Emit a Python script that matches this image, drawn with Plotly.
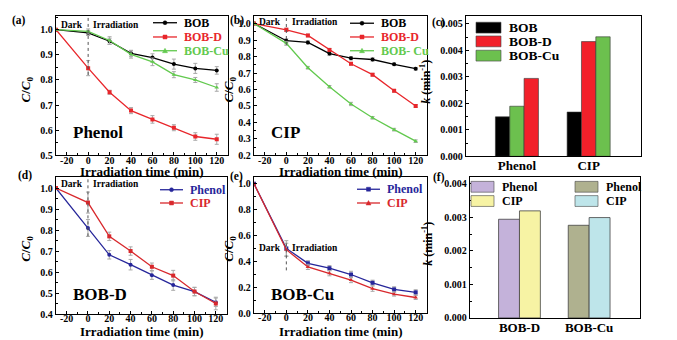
import plotly.graph_objects as go

# ---- data ----
t = [-30, 0, 20, 40, 60, 80, 100, 120]
t_ticks = [-20, 0, 20, 40, 60, 80, 100, 120]
t_ticktext = ["-20", "0", "20", "40", "60", "80", "100", "120"]

# (a) phenol degradation
a_bob = [1.0, 0.987, 0.954, 0.906, 0.889, 0.863, 0.846, 0.838]
a_bob_err = [0, 0.01, 0.012, 0.012, 0.015, 0.02, 0.02, 0.015]
a_bobd = [1.0, 0.847, 0.751, 0.678, 0.643, 0.610, 0.575, 0.564]
a_bobd_err = [0, 0.03, 0.008, 0.012, 0.015, 0.012, 0.015, 0.02]
a_bobcu = [1.0, 0.993, 0.957, 0.902, 0.872, 0.821, 0.800, 0.770]
a_bobcu_err = [0, 0.01, 0.015, 0.015, 0.015, 0.012, 0.01, 0.015]

# (b) CIP degradation
b_bob = [1.0, 0.896, 0.886, 0.818, 0.790, 0.782, 0.753, 0.726]
b_bob_err = [0, 0.012, 0.01, 0.012, 0.01, 0.01, 0.008, 0.008]
b_bobd = [1.0, 0.962, 0.928, 0.840, 0.756, 0.690, 0.592, 0.500]
b_bobd_err = [0, 0.01, 0.008, 0.01, 0.008, 0.008, 0.008, 0.008]
b_bobcu = [1.0, 0.880, 0.732, 0.616, 0.512, 0.428, 0.356, 0.286]
b_bobcu_err = [0, 0.012, 0.008, 0.008, 0.01, 0.008, 0.008, 0.008]

# (d) BOB-D
d_phenol = [1.0, 0.810, 0.682, 0.635, 0.585, 0.538, 0.507, 0.456]
d_phenol_err = [0, 0.04, 0.02, 0.025, 0.02, 0.025, 0.02, 0.02]
d_cip = [1.0, 0.931, 0.770, 0.700, 0.625, 0.583, 0.507, 0.450]
d_cip_err = [0, 0.05, 0.02, 0.02, 0.018, 0.025, 0.02, 0.03]

# (e) BOB-Cu
e_phenol = [1.0, 0.500, 0.385, 0.347, 0.298, 0.234, 0.183, 0.160]
e_phenol_err = [0, 0.06, 0.02, 0.02, 0.025, 0.02, 0.02, 0.02]
e_cip = [1.0, 0.490, 0.357, 0.308, 0.255, 0.188, 0.146, 0.120]
e_cip_err = [0, 0.05, 0.02, 0.02, 0.02, 0.02, 0.015, 0.015]

# (c) rate constants
c_cats = ["Phenol", "CIP"]
c_series = ["BOB", "BOB-D", "BOB-Cu"]
c_values = {"BOB": [0.00149, 0.00167], "BOB-D": [0.00294, 0.00433], "BOB-Cu": [0.00189, 0.00451]}

# (f) rate constants
f_cats = ["BOB-D", "BOB-Cu"]
f_phenol = [0.00294, 0.00276]
f_cip = [0.00319, 0.00299]

FONT = "Liberation Serif"
BLACK, RED, GREEN = "#000000", "#E8262B", "#62C94E"
NAVY, RED2 = "#26269A", "#D8282C"
ERRC = "#A8A8A8"
W, H = 677, 340

fig = go.Figure()


def line(x, y, err, color, symbol, ax):
    fig.add_trace(go.Scatter(
        x=x, y=y, mode="lines+markers", line=dict(color=color, width=1.3),
        marker=dict(symbol=symbol, size=4, color=color),
        error_y=dict(type="data", array=err, color=ERRC, thickness=1, width=2),
        xaxis="x" + ax, yaxis="y" + ax))


line(t, a_bob, a_bob_err, BLACK, "circle", "")
line(t, a_bobd, a_bobd_err, RED, "square", "")
line(t, a_bobcu, a_bobcu_err, GREEN, "triangle-up", "")

line(t, b_bob, b_bob_err, BLACK, "circle", "2")
line(t, b_bobd, b_bobd_err, RED, "square", "2")
line(t, b_bobcu, b_bobcu_err, GREEN, "triangle-up", "2")

line(t, d_phenol, d_phenol_err, NAVY, "circle", "4")
line(t, d_cip, d_cip_err, RED2, "square", "4")

line(t, e_phenol, e_phenol_err, NAVY, "square", "5")
line(t, e_cip, e_cip_err, RED2, "triangle-up", "5")

# (c) bars: within each group the bars are ordered by value (slot = rank)
c_colors = {"BOB": BLACK, "BOB-D": "#F2202A", "BOB-Cu": "#6CC04E"}
for rank in range(len(c_series)):
    for i, cat in enumerate(c_cats):
        s = sorted(c_series, key=lambda k: c_values[k][i])[rank]
        fig.add_trace(go.Bar(
            x=[cat], y=[c_values[s][i]], offsetgroup=str(rank),
            marker=dict(color=c_colors[s], line=dict(color="#333333", width=0.6)),
            xaxis="x3", yaxis="y3"))

# (f) bars
f_cols = [("#C4B2DA", "#F7F3A4"), ("#AFB18F", "#BEE5EA")]
for i, cat in enumerate(f_cats):
    fig.add_trace(go.Bar(x=[cat], y=[f_phenol[i]], offsetgroup="p",
                         marker=dict(color=f_cols[i][0], line=dict(color="#444444", width=0.8)),
                         xaxis="x6", yaxis="y6"))
    fig.add_trace(go.Bar(x=[cat], y=[f_cip[i]], offsetgroup="c",
                         marker=dict(color=f_cols[i][1], line=dict(color="#444444", width=0.8)),
                         xaxis="x6", yaxis="y6"))


def dom(x0, x1, y0, y1):
    return [x0 / W, x1 / W], [1 - y1 / H, 1 - y0 / H]


boxes = {
    "": dom(48, 220, 8, 150),
    "2": dom(246, 419, 8, 150),
    "3": dom(458, 633, 8, 151),
    "4": dom(48, 219, 172, 311.5),
    "5": dom(246, 419, 172, 310.5),
    "6": dom(462, 632, 172, 315.5),
}

axstyle = dict(showline=True, linecolor="black", linewidth=1.3, mirror=True,
               ticks="inside", ticklen=3, tickwidth=1, tickcolor="black",
               showgrid=False, zeroline=False,
               tickfont=dict(family=FONT, size=10, color="black", weight="bold"))

lay = {}
yranges = {"": ([0.5, 1.055], 0.1, ".1f"), "2": ([0.2, 1.047], 0.1, ".1f"),
           "4": ([0.4, 1.053], 0.1, ".1f"), "5": ([0, 1.053], 0.2, ".1f"),
           "3": ([0, 0.0053], 0.001, ".3f"), "6": ([0, 0.0042], 0.001, ".3f")}
for k, (xd, yd) in boxes.items():
    yr, dt, fmt = yranges[k]
    if k in ("3", "6"):
        lay["xaxis" + k] = dict(axstyle, domain=xd, anchor="y" + k, ticks="", range=[-0.71, 1.73],
                                ticklabelstandoff=-3,
                                tickfont=dict(family=FONT, size=13, color="black", weight="bold"))
    else:
        lay["xaxis" + k] = dict(axstyle, domain=xd, anchor="y" + k, range=[-30, 130.5],
                                tickvals=t_ticks, ticktext=t_ticktext,
                                ticklabelstandoff=-5,
                                minor=dict(ticks="inside", ticklen=2, dtick=10, tick0=0))
    lay["yaxis" + k] = dict(axstyle, domain=yd, anchor="x" + k, range=yr, dtick=dt,
                            tickformat=fmt, minor=dict(ticks="inside", ticklen=2, nticks=2))

# dark/irradiation dividers (x=0, y extents per panel)
dividers = {"": (0.82, 1.055), "2": (0.87, 1.047), "4": (0.77, 1.053), "5": (0.33, 0.56)}
shapes = []
for k, (y0, y1) in dividers.items():
    shapes.append(dict(type="line", xref="x" + k, yref="y" + k, x0=0, x1=0, y0=y0, y1=y1,
                       line=dict(color="#555555", width=1, dash="dot")))

ann = []


def txt(text, x, y, size, xref="paper", yref="paper", xanchor="center", yanchor="middle",
        angle=0, color="black"):
    ann.append(dict(text=text, x=x, y=y, xref=xref, yref=yref, xanchor=xanchor,
                    yanchor=yanchor, showarrow=False, textangle=angle,
                    font=dict(family=FONT, size=size, color=color, weight="bold")))


# ---- legends (drawn as keys + text, positions in pixels) ----
def px(x):
    return x / W


def py(y):
    return 1 - y / H


def key_line(x0, x1, y, color, symbol, label, size=12):
    shapes.append(dict(type="line", xref="paper", yref="paper", x0=px(x0), x1=px(x1),
                       y0=py(y), y1=py(y), line=dict(color=color, width=1.3)))
    cx, r = (x0 + x1) / 2, 2
    if symbol == "triangle":
        path = f"M {px(cx - r - 0.5)} {py(y + r)} L {px(cx + r + 0.5)} {py(y + r)} L {px(cx)} {py(y - r - 0.5)} Z"
        shapes.append(dict(type="path", xref="paper", yref="paper", path=path,
                           fillcolor=color, line=dict(color=color, width=0.5)))
    else:
        shapes.append(dict(type="circle" if symbol == "circle" else "rect",
                           xref="paper", yref="paper", x0=px(cx - r), x1=px(cx + r),
                           y0=py(y + r), y1=py(y - r), fillcolor=color,
                           line=dict(color=color, width=0.5)))
    txt(label, px(x1 + 5), py(y), size, xanchor="left", color=color)


def key_box(x0, x1, y, h, color, label, size):
    shapes.append(dict(type="rect", xref="paper", yref="paper", x0=px(x0), x1=px(x1),
                       y0=py(y + h / 2), y1=py(y - h / 2), fillcolor=color,
                       line=dict(color="#444444", width=0.6)))
    txt(label, px(x1 + 6), py(y), size, xanchor="left")


for lab, col, sym, yy in [("BOB", BLACK, "circle", 15), ("BOB-D", RED, "square", 29.5),
                          ("BOB-Cu", GREEN, "triangle", 43.5)]:
    key_line(145, 169, yy, col, sym, lab)
for lab, col, sym, yy in [("BOB", BLACK, "circle", 15.5), ("BOB-D", RED, "square", 29.5),
                          ("BOB- Cu", GREEN, "triangle", 43.5)]:
    key_line(342, 366, yy, col, sym, lab)
for lab, col, yy in [("BOB", BLACK, 20), ("BOB-D", c_colors["BOB-D"], 34),
                     ("BOB-Cu", c_colors["BOB-Cu"], 48.5)]:
    key_box(468, 493, yy, 11, col, lab, 13.5)
key_line(152, 175, 185, NAVY, "circle", "Phenol")
key_line(152, 175, 198.5, RED2, "square", "CIP")
key_line(349, 372, 184.5, NAVY, "square", "Phenol")
key_line(349, 372, 198.5, RED2, "triangle", "CIP")
key_box(463, 486, 182, 11, f_cols[0][0], "Phenol", 12)
key_box(463, 486, 196.5, 11, f_cols[0][1], "CIP", 12)
key_box(567, 590, 182, 11, f_cols[1][0], "Phenol", 12)
key_box(567, 590, 196.5, 11, f_cols[1][1], "CIP", 12)

# dark / irradiation labels
for k, ytxt in {"": 1.02, "2": 1.01, "4": 1.02, "5": 0.5}.items():
    txt("Dark", -3, ytxt, 9.5, "x" + k, "y" + k, xanchor="right")
    txt("Irradiation", 3, ytxt, 9.5, "x" + k, "y" + k, xanchor="left")

# sample labels
txt("Phenol", px(63), py(127), 17, xanchor="left")
txt("CIP", px(261), py(127), 17, xanchor="left")
txt("BOB-D", px(63), py(292), 17, xanchor="left")
txt("BOB-Cu", px(261), py(292), 17, xanchor="left")

# panel letters
for lab, x, y in [("(a)", 2, 13), ("(b)", 220, 13), ("(c)", 422, 15),
                  ("(d)", 8, 170), ("(e)", 220, 172), ("(f)", 423, 173)]:
    txt(lab, px(x), py(y), 11.5, xanchor="left")

# axis titles
for x, y in [(133, 166), (332, 166), (133, 329), (332, 329)]:
    txt("Irradiation time (min)", px(x), py(y), 13)
for x, y in [(19, 83), (222, 83), (19, 245), (222, 245)]:
    txt("<i>C</i>/<i>C</i><sub>0</sub>", px(x), py(y), 13, angle=-90)
for x, y in [(418, 75), (420, 240)]:
    txt("<i>k</i> (min<sup>-1</sup>)", px(x), py(y), 12, angle=-90)

fig.update_layout(
    width=W, height=H, margin=dict(l=0, r=0, t=0, b=0),
    paper_bgcolor="white", plot_bgcolor="white", showlegend=False,
    font=dict(family=FONT, color="black"),
    barmode="group", bargap=0.4, bargroupgap=0,
    shapes=shapes, annotations=ann, **lay)

fig.write_html("out.html")
